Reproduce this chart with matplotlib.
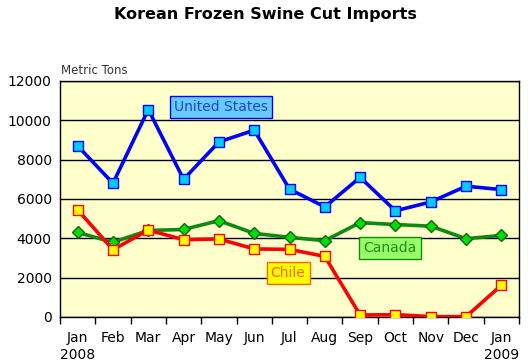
import numpy as np
import matplotlib.pyplot as plt

months = ["Jan", "Feb", "Mar", "Apr", "May", "Jun", "Jul", "Aug", "Sep", "Oct", "Nov", "Dec", "Jan"]
united_states = [8700, 6800, 10550, 7000, 8900, 9500, 6500, 5600, 7100, 5400, 5850, 6650, 6480]
canada = [4300, 3800, 4400, 4450, 4900, 4250, 4050, 3880, 4800, 4700, 4620, 3980, 4150]
chile = [5450, 3420, 4420, 3930, 3970, 3460, 3440, 3080, 100, 120, 20, 20, 1610]

plt.rcParams['font.family'] = ['DejaVu Sans']

fig = plt.figure(figsize=(5.30, 3.63), dpi=100)
ax = fig.add_axes([60/530, 46/363, 459/530, 236/363])
ax.set_facecolor('#FFFFCC')

x = np.arange(len(months))
ax.plot(x, united_states, color='#0000FF', lw=2.6, marker='s', ms=7.5,
        mfc='#00CCFF', mec='#0000FF', mew=1.0, zorder=4)
ax.plot(x, canada, color='#118811', lw=2.6, marker='D', ms=6,
        mfc='#00DD00', mec='#116611', mew=1.0, zorder=3)
ax.plot(x, chile, color='#FF0000', lw=2.6, marker='s', ms=7.5,
        mfc='#FFFF00', mec='#FF0000', mew=1.0, zorder=3)

ax.set_xlim(-0.5, len(months) - 0.5)
ax.set_ylim(0, 12000)
ax.set_yticks(np.arange(0, 12001, 2000))
ax.yaxis.grid(True, color='black', lw=1.0)
ax.set_axisbelow(True)
ax.tick_params(axis='y', length=0, labelsize=10, pad=6)

ax.set_xticks(x)
ax.set_xticklabels(months, fontsize=10)
ax.tick_params(axis='x', which='major', length=0, pad=10)
ax.set_xticks(np.arange(-0.5, len(months)), minor=True)
ax.tick_params(axis='x', which='minor', length=5, width=1, color='black')

for s in ax.spines.values():
    s.set_color('black')
    s.set_linewidth(1.0)

ax.text(0, -38/236, "2008", transform=ax.get_xaxis_transform(), ha='center', va='center', fontsize=10)
ax.text(12, -38/236, "2009", transform=ax.get_xaxis_transform(), ha='center', va='center', fontsize=10)

fig.text(265/530, 1 - 14/363, "Korean Frozen Swine Cut Imports", ha='center', va='center',
         fontsize=11.5, fontweight='bold')
fig.text(61/530, 1 - 71/363, "Metric Tons", ha='left', va='center', fontsize=8.5, color='#333333')

ax.text(4.06, 10680, "United States", ha='center', va='center', fontsize=10, color='#2244CC',
        bbox=dict(boxstyle='square,pad=0.3', fc='#66CCFF', ec='#0000FF', lw=1), zorder=5)
ax.text(8.85, 3510, "Canada", ha='center', va='center', fontsize=10, color='#228822',
        bbox=dict(boxstyle='square,pad=0.3', fc='#99FF66', ec='#118811', lw=1), zorder=5)
ax.text(5.96, 2240, "Chile", ha='center', va='center', fontsize=10, color='#FF6600',
        bbox=dict(boxstyle='square,pad=0.3', fc='#FFFF00', ec='#FF6600', lw=1), zorder=5)

fig.savefig('out.png', dpi=100)
